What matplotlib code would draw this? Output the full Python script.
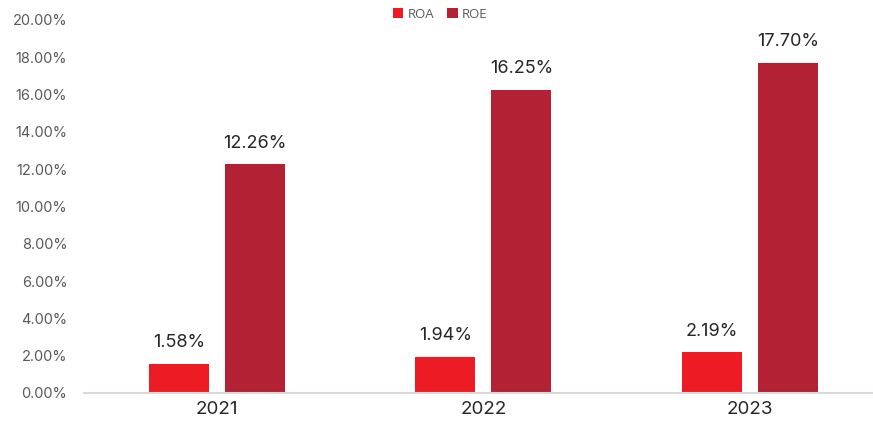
import numpy as np
import matplotlib.pyplot as plt

years = ['2021', '2022', '2023']
roa = [1.58, 1.94, 2.19]
roe = [12.26, 16.25, 17.70]
y_ticks = [0, 2, 4, 6, 8, 10, 12, 14, 16, 18, 20]

plt.rcParams['font.family'] = ['Inter', 'DejaVu Sans']

fig = plt.figure(figsize=(8.73, 4.21), dpi=100)
ax = fig.add_axes([84 / 873, 1 - 393 / 421, 798.75 / 873, 373 / 421])

x = np.arange(len(years))
w = 0.225
off = 0.143
b1 = ax.bar(x - off, roa, w, color='#ED1C24', label='ROA')
b2 = ax.bar(x + off, roe, w, color='#B22234', label='ROE')

for bars, vals in ((b1, roa), (b2, roe)):
    for b, v in zip(bars, vals):
        ax.annotate(f'{v:.2f}%', (b.get_x() + b.get_width() / 2, v),
                    xytext=(0, 9), textcoords='offset points',
                    ha='center', va='bottom', fontsize=13, color='#262626')

ax.set_xlim(-0.5, 2.5)
ax.set_ylim(0, 20)
ax.set_yticks(y_ticks)
ax.set_yticklabels([f'{t:.2f}%' for t in y_ticks], fontsize=10.5, color='#595959')
ax.set_xticks(x)
ax.set_xticklabels(years, fontsize=13.5, color='#262626')
ax.tick_params(length=0)
ax.tick_params(axis='y', pad=12)
ax.tick_params(axis='x', pad=6)
for s in ['top', 'right', 'left']:
    ax.spines[s].set_visible(False)
ax.spines['bottom'].set_color('#d9d9d9')
ax.spines['bottom'].set_linewidth(1.5)

fig.legend(loc='upper center', bbox_to_anchor=(440 / 873, 1.0), ncol=2,
           frameon=False, handlelength=0.8, handleheight=0.8,
           handletextpad=0.3, columnspacing=1.0, labelcolor='#595959',
           borderaxespad=0.2, prop={'family': ['Open Sans', 'DejaVu Sans'], 'size': 9.5})

fig.savefig('out.png', dpi=100)
